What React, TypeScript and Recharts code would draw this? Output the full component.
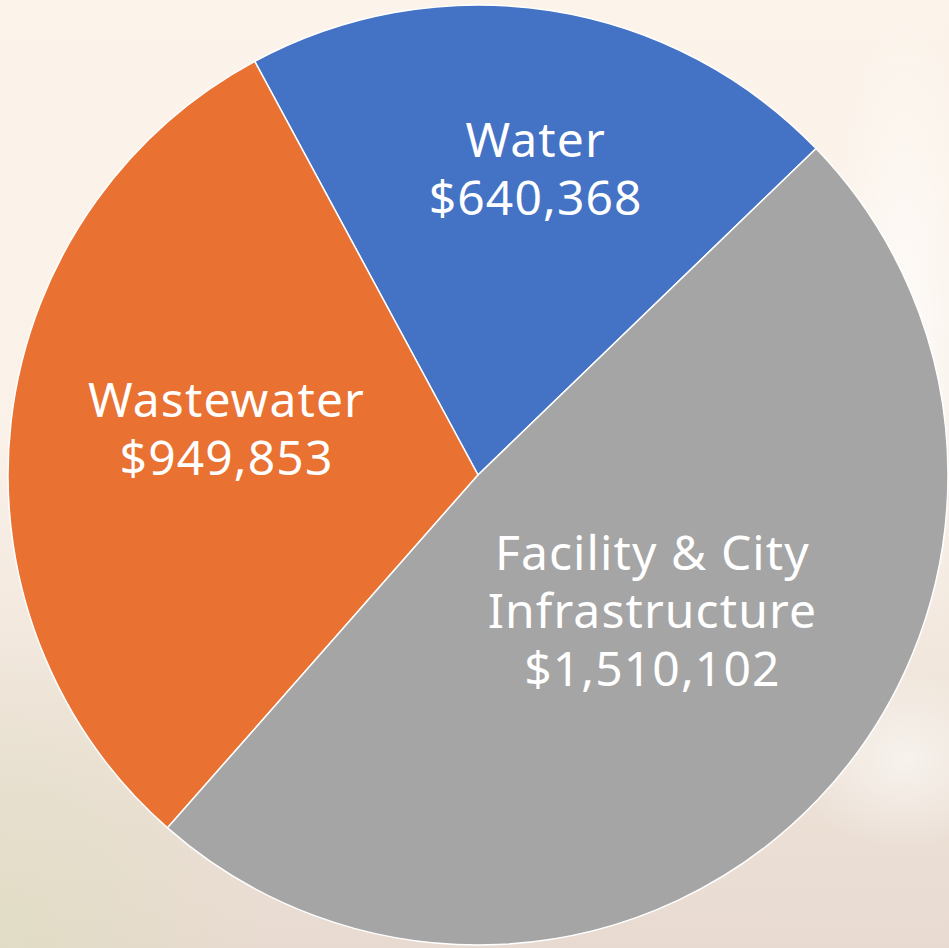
import { Pie, PieChart, Cell } from "recharts";

const categories = ["Water", "Wastewater", "Facility & City Infrastructure"];
const amounts = [640368, 949853, 1510102];
// how each label is written on the slice, line by line
const labelLines = [
  ["Water"],
  ["Wastewater"],
  ["Facility & City", "Infrastructure"],
];

const colors = ["#4472C4", "#E97132", "#A5A5A5"];
// label placement relative to the slice middle: radius (px) and angle nudge (deg)
const labelRadius = [313, 256, 220];
const labelAngleShift = [-1.8, -4.3, 6.1];

const data = categories.map((name, i) => ({ name, value: amounts[i] }));

const RADIAN = Math.PI / 180;

const renderLabel = (props: any) => {
  const { cx, cy, midAngle, index, value } = props;
  const a = (midAngle + labelAngleShift[index]) * RADIAN;
  const x = cx + labelRadius[index] * Math.cos(a);
  const y = cy - labelRadius[index] * Math.sin(a);
  const lines = [...labelLines[index], "$" + value.toLocaleString("en-US")];
  const lh = 58;
  return (
    <g>
      {lines.map((line, i) => (
        <text
          key={i}
          x={x}
          y={y + (i - (lines.length - 1) / 2) * lh}
          dominantBaseline="central"
          fill="#ffffff"
          textAnchor="middle"
          fontFamily="'Noto Sans', sans-serif"
          fontSize={48}
          letterSpacing={1.1}
        >
          {line}
        </text>
      ))}
    </g>
  );
};

export default function App() {
  return (
    <div
      style={{
        position: "absolute",
        left: 0,
        top: 0,
        width: 949,
        height: 948,
        background:
          "radial-gradient(ellipse 80px 320px at 905px 330px, rgba(255,255,255,0.65), rgba(255,255,255,0) 100%), radial-gradient(ellipse 110px 90px at 905px 760px, rgba(255,255,255,0.55), rgba(255,255,255,0) 100%), radial-gradient(ellipse 260px 300px at 0px 948px, rgba(224,221,196,0.9), rgba(224,221,196,0) 100%), linear-gradient(180deg, #fcf4eb 0%, #faf1e9 45%, #efe5da 75%, #e8dad0 100%)",
      }}
    >
      <PieChart width={949} height={948} margin={{ top: 0, right: 0, bottom: 0, left: 0 }}>
        <Pie
          data={data}
          dataKey="value"
          nameKey="name"
          cx={478}
          cy={475}
          outerRadius={470}
          startAngle={44}
          endAngle={404}
          stroke="#ffffff"
          strokeWidth={1.5}
          label={renderLabel}
          labelLine={false}
          isAnimationActive={false}
        >
          {data.map((d, i) => (
            <Cell key={d.name} fill={colors[i]} />
          ))}
        </Pie>
      </PieChart>
    </div>
  );
}
